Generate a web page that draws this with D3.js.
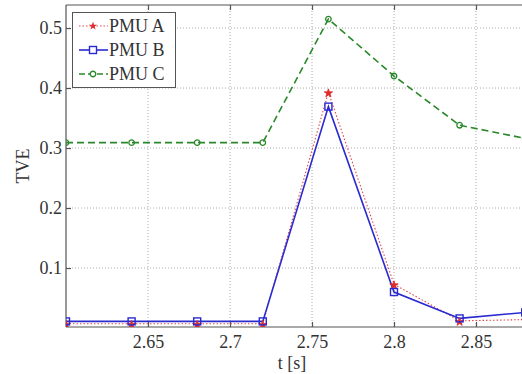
<!DOCTYPE html>
<html lang="en">
<head>
<meta charset="UTF-8">
<title>TVE</title>
<style>
body { margin:0; background:#fff; }
svg text { font-family: "Liberation Serif", "DejaVu Serif", serif; fill:#333; }
</style>
<script src="https://d3js.org/d3.v7.min.js"></script>
</head>
<body>
<div id="chart"></div>
<script>
// data
var times = [2.60, 2.64, 2.68, 2.72, 2.76, 2.80, 2.84, 2.88];
var pmuA = [0.007, 0.007, 0.007, 0.007, 0.393, 0.073, 0.012, 0.014];
var pmuB = [0.011, 0.011, 0.011, 0.011, 0.369, 0.060, 0.016, 0.026];
var pmuC = [0.309, 0.309, 0.309, 0.309, 0.515, 0.420, 0.338, 0.316];
var xTicks = [2.65, 2.7, 2.75, 2.8, 2.85];
var yTicks = [0.1, 0.2, 0.3, 0.4, 0.5];
var seriesNames = ["PMU A", "PMU B", "PMU C"];

var W = 522, H = 374;
var mLeft = 66, mTop = 5, mBottom = 327;

var svg = d3.select("#chart").append("svg")
  .attr("width", W).attr("height", H);

var x = d3.scaleLinear().domain([2.6, 2.9]).range([mLeft, mLeft + 0.3 * 1640]);
var y = d3.scaleLinear().domain([0.0017, 0.5384]).range([mBottom, mTop]);

svg.append("clipPath").attr("id", "clip")
  .append("rect").attr("x", mLeft).attr("y", mTop).attr("width", W - mLeft).attr("height", mBottom - mTop);

// grid
var grid = svg.append("g").attr("stroke", "#aaa").attr("stroke-dasharray", "1,2").attr("stroke-width", 1);
xTicks.forEach(function (t) {
  grid.append("line").attr("x1", x(t)).attr("x2", x(t)).attr("y1", mTop).attr("y2", mBottom);
});
yTicks.forEach(function (t) {
  grid.append("line").attr("x1", mLeft).attr("x2", W).attr("y1", y(t)).attr("y2", y(t));
});

// axes
var axisB = svg.append("g").attr("transform", "translate(0," + mBottom + ")")
  .call(d3.axisBottom(x).tickValues(xTicks).tickSizeInner(-5).tickSizeOuter(0).tickPadding(8).tickFormat(d3.format("")));
var axisT = svg.append("g").attr("transform", "translate(0," + mTop + ")")
  .call(d3.axisTop(x).tickValues(xTicks).tickSizeInner(-5).tickSizeOuter(0).tickFormat(""));
var axisL = svg.append("g").attr("transform", "translate(" + mLeft + ",0)")
  .call(d3.axisLeft(y).tickValues(yTicks).tickSizeInner(-5).tickSizeOuter(0).tickPadding(4).tickFormat(d3.format("")));
[axisB, axisT, axisL].forEach(function (a) {
  a.attr("font-family", null).attr("font-size", null);
  a.selectAll("path, line").attr("stroke", "#555").attr("stroke-width", 1.2);
  a.selectAll("text").attr("font-size", 18).attr("fill", "#333");
});
axisB.select(".domain").attr("d", "M" + mLeft + ",0H" + W);
axisT.select(".domain").attr("d", "M" + mLeft + ",0H" + W);
axisL.select(".domain").attr("d", "M0," + mTop + "V" + mBottom);

// series
var plot = svg.append("g").attr("clip-path", "url(#clip)");
var line = function (vals) {
  return d3.line().x(function (d, i) { return x(times[i]); }).y(function (d) { return y(d); })(vals);
};

plot.append("path").attr("d", line(pmuC)).attr("fill", "none")
  .attr("stroke", "#2a882a").attr("stroke-width", 1.6).attr("stroke-dasharray", "7,4");
plot.append("path").attr("d", line(pmuA)).attr("fill", "none")
  .attr("stroke", "#e04848").attr("stroke-width", 1.1).attr("stroke-dasharray", "1.5,2");
plot.append("path").attr("d", line(pmuB)).attr("fill", "none")
  .attr("stroke", "#2a2ad0").attr("stroke-width", 1.6);

var star = d3.symbol().type(d3.symbolStar).size(22);
var circ = d3.symbol().type(d3.symbolCircle).size(24);

pmuC.forEach(function (v, i) {
  plot.append("path").attr("d", circ()).attr("transform", "translate(" + x(times[i]) + "," + y(v) + ")")
    .attr("fill", "none").attr("stroke", "#2a882a").attr("stroke-width", 1.3);
});
pmuA.forEach(function (v, i) {
  plot.append("path").attr("d", star()).attr("transform", "translate(" + x(times[i]) + "," + (y(v) + 1) + ")")
    .attr("fill", "#e02a2a").attr("stroke", "#e02a2a").attr("stroke-width", 0.8);
});
pmuB.forEach(function (v, i) {
  plot.append("rect").attr("x", x(times[i]) - 3.5).attr("y", y(v) - 3.5).attr("width", 7).attr("height", 7)
    .attr("fill", "none").attr("stroke", "#2a2ad0").attr("stroke-width", 1.4);
});

// labels
svg.append("text").attr("x", 292).attr("y", 369).attr("text-anchor", "middle")
  .attr("font-size", 18).text("t [s]");
svg.append("text").attr("transform", "translate(29,166) rotate(-90)").attr("text-anchor", "middle")
  .attr("font-size", 18).text("TVE");

// legend
var lg = svg.append("g");
lg.append("rect").attr("x", 72.5).attr("y", 12.5).attr("width", 103).attr("height", 75)
  .attr("fill", "#fff").attr("stroke", "#555").attr("stroke-width", 1);
var rowY = [26, 50, 74];
var lgStyle = [
  { c: "#e04848", w: 1.1, dash: "1.5,2" },
  { c: "#2a2ad0", w: 1.6, dash: null },
  { c: "#2a882a", w: 1.6, dash: "6,3" }
];
seriesNames.forEach(function (name, i) {
  var s = lgStyle[i];
  var l = lg.append("line").attr("x1", 79).attr("x2", 108).attr("y1", rowY[i]).attr("y2", rowY[i])
    .attr("stroke", s.c).attr("stroke-width", s.w);
  if (s.dash) l.attr("stroke-dasharray", s.dash);
  if (i === 0) {
    lg.append("path").attr("d", star()).attr("transform", "translate(93," + rowY[i] + ")").attr("fill", "#e02a2a");
  } else if (i === 1) {
    lg.append("rect").attr("x", 89.5).attr("y", rowY[i] - 3.5).attr("width", 7).attr("height", 7)
      .attr("fill", "#fff").attr("stroke", s.c).attr("stroke-width", 1.4);
  } else {
    lg.append("path").attr("d", circ()).attr("transform", "translate(93," + rowY[i] + ")")
      .attr("fill", "#fff").attr("stroke", s.c).attr("stroke-width", 1.3);
  }
  lg.append("text").attr("x", 109).attr("y", rowY[i] + 6).attr("font-size", 18).text(name);
});
</script>
</body>
</html>
